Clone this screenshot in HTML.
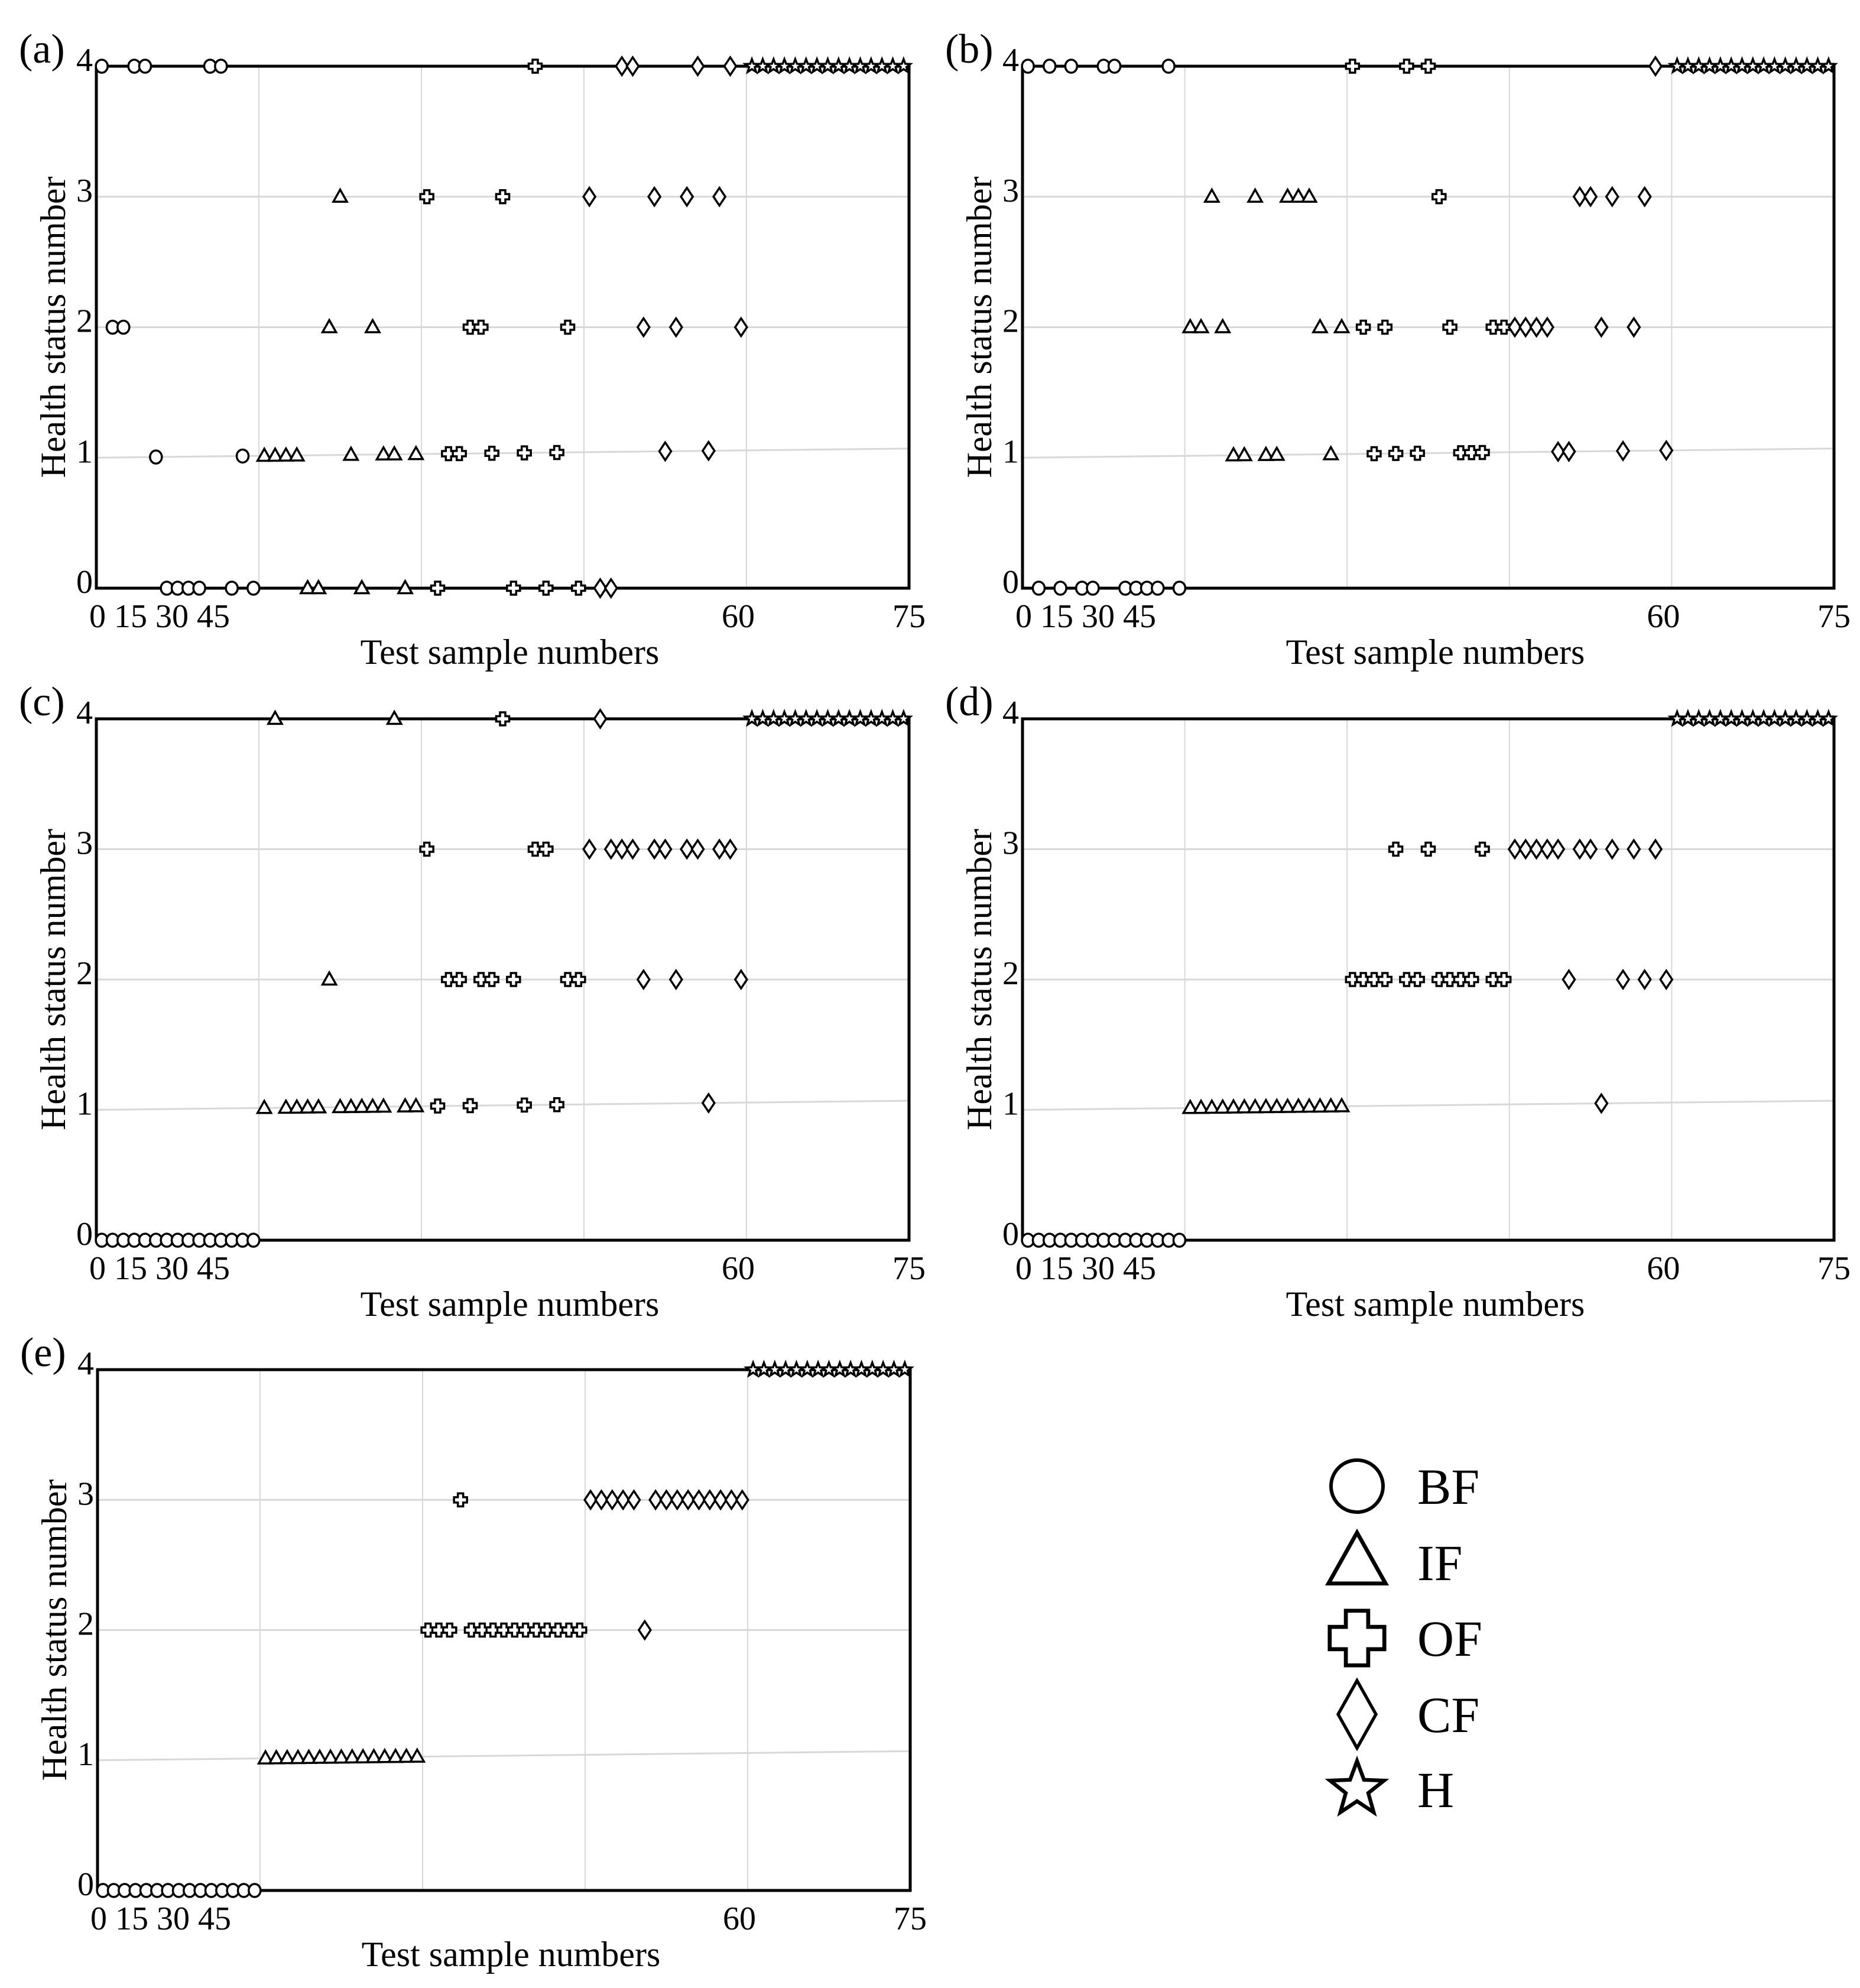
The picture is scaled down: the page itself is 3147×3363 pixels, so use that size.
<!DOCTYPE html>
<html><head><meta charset="utf-8"><style>
html,body{margin:0;padding:0;background:#fff;}
svg{display:block;font-family:"Liberation Serif",serif;}
svg text{font-family:"Liberation Serif",serif;}
</style></head><body>
<svg id="fig" width="3147" height="3363" viewBox="0 0 3147 3363" xmlns="http://www.w3.org/2000/svg" font-family="Liberation Serif, serif"></svg>
<script>
// Data: predicted health status for test samples 1..75 (true classes: BF 1-15, IF 16-30, OF 31-45, CF 46-60, H 61-75)
const classNames = ["BF","IF","OF","CF","H"];
const xTickLabels = ["0 15 30 45","60","75"];
const yTicks = [0,1,2,3,4];
const predA = [4,2,2,4,4,1,0,0,0,0,4,4,0,1,0,
  1,1,1,1,0,0,2,3,1,0,2,1,1,0,1,
  3,0,1,1,2,2,1,3,0,1,4,0,1,2,0,
  3,0,0,4,4,2,3,1,2,3,4,1,3,4,2,
  4,4,4,4,4,4,4,4,4,4,4,4,4,4,4];
const predB = [4,0,4,0,4,0,0,4,4,0,0,0,0,4,0,
  2,2,3,2,1,1,3,1,1,3,3,3,2,1,2,
  4,2,1,2,1,4,1,4,3,2,1,1,1,2,2,
  2,2,2,2,1,1,3,3,2,3,1,2,3,4,1,
  4,4,4,4,4,4,4,4,4,4,4,4,4,4,4];
const predC = [0,0,0,0,0,0,0,0,0,0,0,0,0,0,0,
  1,4,1,1,1,1,2,1,1,1,1,1,4,1,1,
  3,1,2,2,1,2,2,4,2,1,3,3,1,2,2,
  3,4,3,3,3,2,3,3,2,3,3,1,3,3,2,
  4,4,4,4,4,4,4,4,4,4,4,4,4,4,4];
const predD = [0,0,0,0,0,0,0,0,0,0,0,0,0,0,0,
  1,1,1,1,1,1,1,1,1,1,1,1,1,1,1,
  2,2,2,2,3,2,2,3,2,2,2,2,3,2,2,
  3,3,3,3,3,2,3,3,1,3,2,3,2,3,2,
  4,4,4,4,4,4,4,4,4,4,4,4,4,4,4];
const predE = [0,0,0,0,0,0,0,0,0,0,0,0,0,0,0,
  1,1,1,1,1,1,1,1,1,1,1,1,1,1,1,
  2,2,2,3,2,2,2,2,2,2,2,2,2,2,2,
  3,3,3,3,3,2,3,3,3,3,3,3,3,3,3,
  4,4,4,4,4,4,4,4,4,4,4,4,4,4,4];

const NS="http://www.w3.org/2000/svg";
const svg=document.getElementById('fig');
function mk(tag,attrs,parent){const e=document.createElementNS(NS,tag);for(const k in attrs)e.setAttribute(k,attrs[k]);if(tag==='text')e.setAttribute('font-family','Liberation Serif, serif');(parent||svg).appendChild(e);return e;}

const panels=[
 {id:'a',L:163,R:1538,T:112,B:995,data:predA},
 {id:'b',L:1730,R:3103,T:112,B:995,data:predB},
 {id:'c',L:163,R:1538,T:1216,B:2098,data:predC},
 {id:'d',L:1730,R:3103,T:1216,B:2098,data:predD},
 {id:'e',L:165,R:1540,T:2317,B:3198,data:predE}
];

function markerPath(cls){
  switch(cls){
    case 0: return null;
    case 1: return "M0,-12 L11.5,8.5 L-11.5,8.5 Z";
    case 2: return "M-4.5,-11 L4.5,-11 L4.5,-4.5 L11,-4.5 L11,4.5 L4.5,4.5 L4.5,11 L-4.5,11 L-4.5,4.5 L-11,4.5 L-11,-4.5 L-4.5,-4.5 Z";
    case 3: return "M0,-15 L10,0 L0,15 L-10,0 Z";
    case 4: {let p="";for(let i=0;i<10;i++){const r=i%2?5:12;const a=-Math.PI/2+i*Math.PI/5;p+=(i?"L":"M")+(r*Math.cos(a)).toFixed(2)+","+(r*Math.sin(a)).toFixed(2)+" ";}return p+"Z";}
  }
}

panels.forEach(p=>{
  const g=mk('g',{});
  
  
  const W=p.R-p.L,H=p.B-p.T;
  const xs=v=>p.L+v/75*W;
  const tilt=0.07;
  const ys=(v,xv)=>p.B-(v + (v===1? tilt*xv/75:0))/4*H;
  [15,30,45,60].forEach(t=>{
    const l=mk('line',{x1:xs(t),x2:xs(t),y1:p.T,y2:p.B,stroke:'#d8d8d8','stroke-width':2},g);
    
    
  });
  [1,2,3].forEach(t=>{
    const l=mk('line',{x1:p.L,x2:p.R,y1:ys(t,0),y2:ys(t,75),stroke:'#d8d8d8','stroke-width':3},g);
    
    
  });
  const fr=mk('rect',{x:p.L,y:p.T,width:W,height:H,fill:'none',stroke:'#000','stroke-width':5},g);
  
  
  yTicks.forEach(t=>{
    const tx=mk('text',{x:p.L-6,y:ys(t,0)+8,'font-size':56,'text-anchor':'end'},g);
    tx.textContent=t;
    
    
  });
  const xl=[[p.L-12,'start',xTickLabels[0]],[xs(60)-14,'middle',xTickLabels[1]],[p.R,'middle',xTickLabels[2]]];
  xl.forEach(d=>{
    const tx=mk('text',{x:d[0],y:p.B+66,'font-size':56,'text-anchor':d[1]},g);
    tx.textContent=d[2];
    
    
  });
  const xt=mk('text',{x:(p.L+p.R)/2+12,y:p.B+128,'font-size':60,'text-anchor':'middle'},g);
  xt.textContent='Test sample numbers';
  
  
  const cy=(p.T+p.B)/2;
  const yt=mk('text',{x:p.L-73,y:cy,'font-size':60,'text-anchor':'middle',transform:`rotate(-90 ${p.L-73} ${cy})`,dy:20},g);
  yt.textContent='Health status number';
  
  
  const lb=mk('text',{x:p.L-131,y:p.T-6,'font-size':70},g);
  lb.textContent='('+p.id+')';
  
  
  p.data.forEach((v,i)=>{
    const cls=Math.floor(i/15);
    const xv=i+0.5;
    const cx=xs(xv),cyy=ys(v,xv);
    let m;
    if(cls===0) m=mk('ellipse',{cx:cx,cy:cyy,rx:10,ry:11,fill:'#fff',stroke:'#000','stroke-width':3.5},g);
    else m=mk('path',{d:markerPath(cls),transform:`translate(${cx},${cyy})`,fill:'#fff',stroke:'#000','stroke-width':3.5,'stroke-linejoin':'miter'},g);
    
    
  });
});

const lg=mk('g',{});


const legY=[2514,2643,2771,2900,3027];
classNames.forEach((n,i)=>{
  const cx=2296,cy=legY[i];
  let m;
  if(i===0) m=mk('ellipse',{cx:cx,cy:cy,rx:44,ry:44,fill:'#fff',stroke:'#000','stroke-width':6},lg);
  else {
    const sx=i===4?4.0:(i===3?3.2:4.2), sy=i===3?3.8:sx;
    m=mk('path',{d:markerPath(i),transform:`translate(${cx},${cy}) scale(${sx},${sy})`,fill:'#fff',stroke:'#000','stroke-width':1.6},lg);
  }
  
  
  const t=mk('text',{x:2398,y:cy+30,'font-size':86},lg);
  t.textContent=n;
  
  
});
</script>
</body></html>
